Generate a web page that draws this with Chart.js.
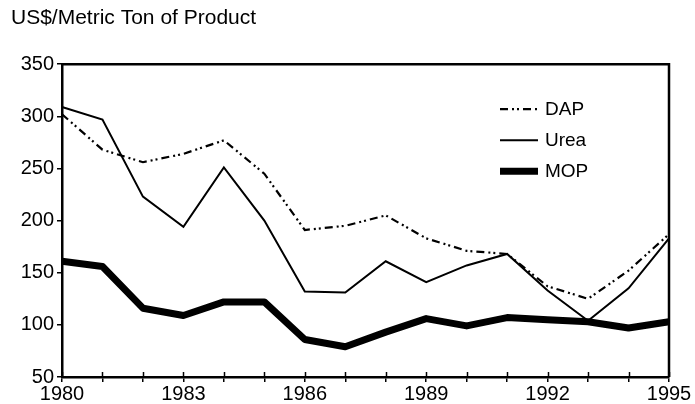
<!DOCTYPE html>
<html>
<head>
<meta charset="utf-8">
<script src="https://cdn.jsdelivr.net/npm/chart.js@4/dist/chart.umd.min.js"></script>
<style>
  html, body { margin: 0; padding: 0; background: #fff; }
  #wrap { width: 695px; height: 404px; }
</style>
</head>
<body>
<div id="wrap"><canvas id="chart" width="695" height="404"></canvas></div>
<script>
const years = ['1980','1981','1982','1983','1984','1985','1986','1987','1988','1989','1990','1991','1992','1993','1994','1995'];
const dap  = [302, 268, 256, 264, 277, 245, 191, 195, 205, 183, 171, 168, 137, 125, 152, 187];
const urea = [309, 297, 223, 194, 251, 200, 132, 131, 161, 141, 157, 168, 133, 104, 135, 183];
const mop  = [161, 156, 116, 109, 122, 122, 86, 79, 93, 106, 99, 107, 105, 103, 97, 103];
const yTicks = [50, 100, 150, 200, 250, 300, 350];

const FONT = "'Liberation Sans', Arial, sans-serif";

// box around the plot, inner half of x ticks, and the legend
const framePlugin = {
  id: 'frame',
  afterDatasetsDraw(chart) {
    const { ctx, chartArea: a } = chart;
    const xs = chart.scales.x;
    ctx.save();
    ctx.strokeStyle = '#000';
    ctx.lineWidth = 2.5;
    ctx.beginPath();
    ctx.moveTo(a.left, a.top);
    ctx.lineTo(a.right, a.top);
    ctx.lineTo(a.right, a.bottom);
    ctx.stroke();
    ctx.lineWidth = 1.5;
    xs.ticks.forEach((t, i) => {
      const px = Math.round(xs.getPixelForTick(i)) + 0.5;
      ctx.beginPath();
      ctx.moveTo(px, a.bottom);
      ctx.lineTo(px, a.bottom - 5);
      ctx.stroke();
    });

    // legend
    const lx = a.left + 438, ly = a.top + 45, gap = 31;
    ctx.font = '19px ' + FONT;
    ctx.textBaseline = 'middle';
    ctx.fillStyle = '#000';
    chart.data.datasets.forEach((ds, i) => {
      const y = ly + i * gap;
      ctx.lineWidth = ds.borderWidth;
      ctx.setLineDash(ds.borderDash || []);
      ctx.lineCap = 'butt';
      ctx.beginPath();
      ctx.moveTo(lx, y);
      ctx.lineTo(lx + 38, y);
      ctx.stroke();
      ctx.setLineDash([]);
      ctx.fillText(ds.label, lx + 45, y + 1);
    });
    ctx.restore();
  }
};

new Chart(document.getElementById('chart'), {
  type: 'line',
  data: {
    labels: years,
    datasets: [
      { label: 'DAP', data: dap, borderColor: '#000', borderWidth: 2.2, borderDash: [8, 4, 2, 3, 2, 4] },
      { label: 'Urea', data: urea, borderColor: '#000', borderWidth: 2 },
      { label: 'MOP', data: mop, borderColor: '#000', borderWidth: 7, borderJoinStyle: 'round' }
    ]
  },
  options: {
    responsive: false,
    animation: false,
    devicePixelRatio: 1,
    layout: { padding: { left: 11, right: 26, top: 0, bottom: 0 } },
    elements: { point: { radius: 0 }, line: { tension: 0 } },
    plugins: {
      legend: { display: false },
      tooltip: { enabled: false },
      title: {
        display: true,
        text: 'US$/Metric Ton of Product',
        align: 'start',
        color: '#000',
        font: { family: FONT, size: 21, weight: 'normal' },
        padding: { top: 6, bottom: 33 }
      }
    },
    scales: {
      x: {
        offset: false,
        grid: { drawOnChartArea: false, color: '#000', tickLength: 5, lineWidth: 1.5 },
        border: { color: '#000', width: 2.5 },
        ticks: {
          color: '#000', font: { family: FONT, size: 20 }, maxRotation: 0, autoSkip: false, padding: 0,
          callback: function (v, i) { return (i % 3 === 0) ? years[i] : ''; }
        },
        afterFit(s) { s.height = 27; }
      },
      y: {
        min: 50, max: 350,
        afterBuildTicks(s) { s.ticks = yTicks.map(v => ({ value: v })); },
        grid: { drawOnChartArea: false, color: '#000', tickLength: 5, lineWidth: 1.5 },
        border: { color: '#000', width: 2.5 },
        ticks: { color: '#000', font: { family: FONT, size: 20 }, padding: 3 },
        afterFit(s) { s.width = 51; }
      }
    }
  },
  plugins: [framePlugin]
});
</script>
</body>
</html>
